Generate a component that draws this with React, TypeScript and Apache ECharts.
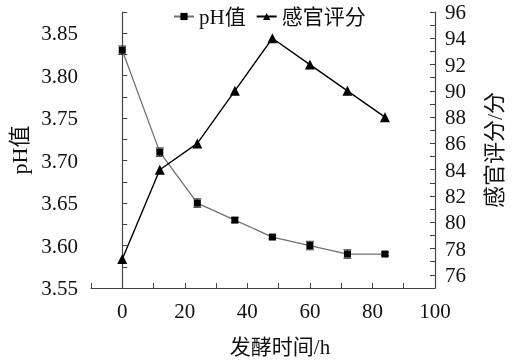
import React, { useEffect, useRef } from "react";
import * as echarts from "echarts";

const hours = [0, 12, 24, 36, 48, 60, 72, 84];
const phValues = [3.83, 3.71, 3.65, 3.63, 3.61, 3.6, 3.59, 3.59];
const phErrors = [0.005, 0.005, 0.005, 0.003, 0.002, 0.005, 0.005, 0.002];
const sensoryScores = [77.2, 84, 86, 90, 94, 92, 90, 88];

const FONT = '"Liberation Serif", "Noto Sans CJK SC", serif';

export default function App() {
  const ref = useRef<HTMLDivElement>(null);
  useEffect(() => {
    document.body.style.margin = "0";
    const chart = echarts.init(ref.current!, null, { renderer: "svg" });
    const phData = hours.map((h, i) => [h, phValues[i]]);
    const errData = hours.map((h, i) => [h, phValues[i] - phErrors[i], phValues[i] + phErrors[i]]);
    const senData = hours.map((h, i) => [h, sensoryScores[i]]);
    const axisLine = { show: true, lineStyle: { color: "#444", width: 1.2 } };
    const tick = { show: true, inside: true, length: 5, lineStyle: { color: "#444" } };
    chart.setOption({
      animation: false,
      textStyle: { fontFamily: FONT },
      legend: {
        data: ["pH值", "感官评分"],
        top: 1,
        left: 168,
        itemGap: 10,
        itemWidth: 20,
        itemHeight: 9,
        textStyle: { fontFamily: FONT, fontSize: 21, color: "#111" },
      },
      grid: { left: 89, right: 71, top: 12, bottom: 74 },
      xAxis: {
        type: "value",
        min: -10,
        max: 100,
        interval: 10,
        name: "发酵时间/h",
        nameLocation: "middle",
        nameGap: 48,
        nameTextStyle: { fontSize: 21, color: "#111", fontFamily: FONT, padding: [0, 0, 0, 34] },
        axisLine,
        axisTick: tick,
        axisLabel: {
          interval: 0,
          fontSize: 21,
          color: "#111",
          margin: 12,
          fontFamily: FONT,
          formatter: (v: number) => (Math.round(v) % 20 === 0 && v >= 0 ? String(Math.round(v)) : ""),
        },
        splitLine: { show: false },
      },
      yAxis: [
        {
          type: "value",
          min: 3.55,
          max: 3.875,
          interval: 0.025,
          name: "pH值",
          nameLocation: "middle",
          nameRotate: 90,
          nameGap: 61,
          nameTextStyle: { fontSize: 22, color: "#111", fontFamily: FONT },
          axisLine,
          axisTick: tick,
          axisLabel: {
            interval: 0,
            fontSize: 21,
            color: "#111",
            margin: 13,
            fontFamily: FONT,
            formatter: (v: number) => {
              const k = Math.round(v * 1000);
              return k % 50 === 0 && k <= 3850 ? (k / 1000).toFixed(2) : "";
            },
          },
          splitLine: { show: false },
        },
        {
          type: "value",
          min: 75,
          max: 96,
          interval: 1,
          name: "感官评分/分",
          nameLocation: "middle",
          nameGap: 48,
          nameTextStyle: { fontSize: 22, color: "#111", fontFamily: FONT },
          axisLine,
          axisTick: tick,
          axisLabel: {
            interval: 0,
            fontSize: 21,
            color: "#111",
            margin: 10,
            fontFamily: FONT,
            formatter: (v: number) => (Math.round(v) % 2 === 0 ? String(Math.round(v)) : ""),
          },
          splitLine: { show: false },
        },
      ],
      series: [
        {
          name: "pH值",
          type: "line",
          yAxisIndex: 0,
          data: phData,
          symbol: "rect",
          symbolSize: 7,
          itemStyle: { color: "#000" },
          lineStyle: { color: "#707070", width: 1.3 },
          z: 3,
        },
        {
          name: "pH误差",
          type: "custom",
          yAxisIndex: 0,
          data: errData,
          encode: { x: 0, y: [1, 2] },
          z: 2,
          renderItem: (params: any, api: any) => {
            const x = api.value(0);
            const lo = api.coord([x, api.value(1)]);
            const hi = api.coord([x, api.value(2)]);
            const cap = 4;
            const style = { stroke: "#333", lineWidth: 1 };
            return {
              type: "group",
              children: [
                { type: "line", shape: { x1: lo[0], y1: lo[1], x2: hi[0], y2: hi[1] }, style },
                { type: "line", shape: { x1: lo[0] - cap, y1: lo[1], x2: lo[0] + cap, y2: lo[1] }, style },
                { type: "line", shape: { x1: hi[0] - cap, y1: hi[1], x2: hi[0] + cap, y2: hi[1] }, style },
              ],
            };
          },
        },
        {
          name: "感官评分",
          type: "line",
          yAxisIndex: 1,
          data: senData,
          symbol: "triangle",
          symbolSize: 10,
          itemStyle: { color: "#000" },
          lineStyle: { color: "#000", width: 1.4 },
          z: 4,
        },
      ],
    });
    return () => chart.dispose();
  }, []);
  return <div ref={ref} style={{ width: 513, height: 362, position: "fixed", left: 0, top: 0 }} />;
}
